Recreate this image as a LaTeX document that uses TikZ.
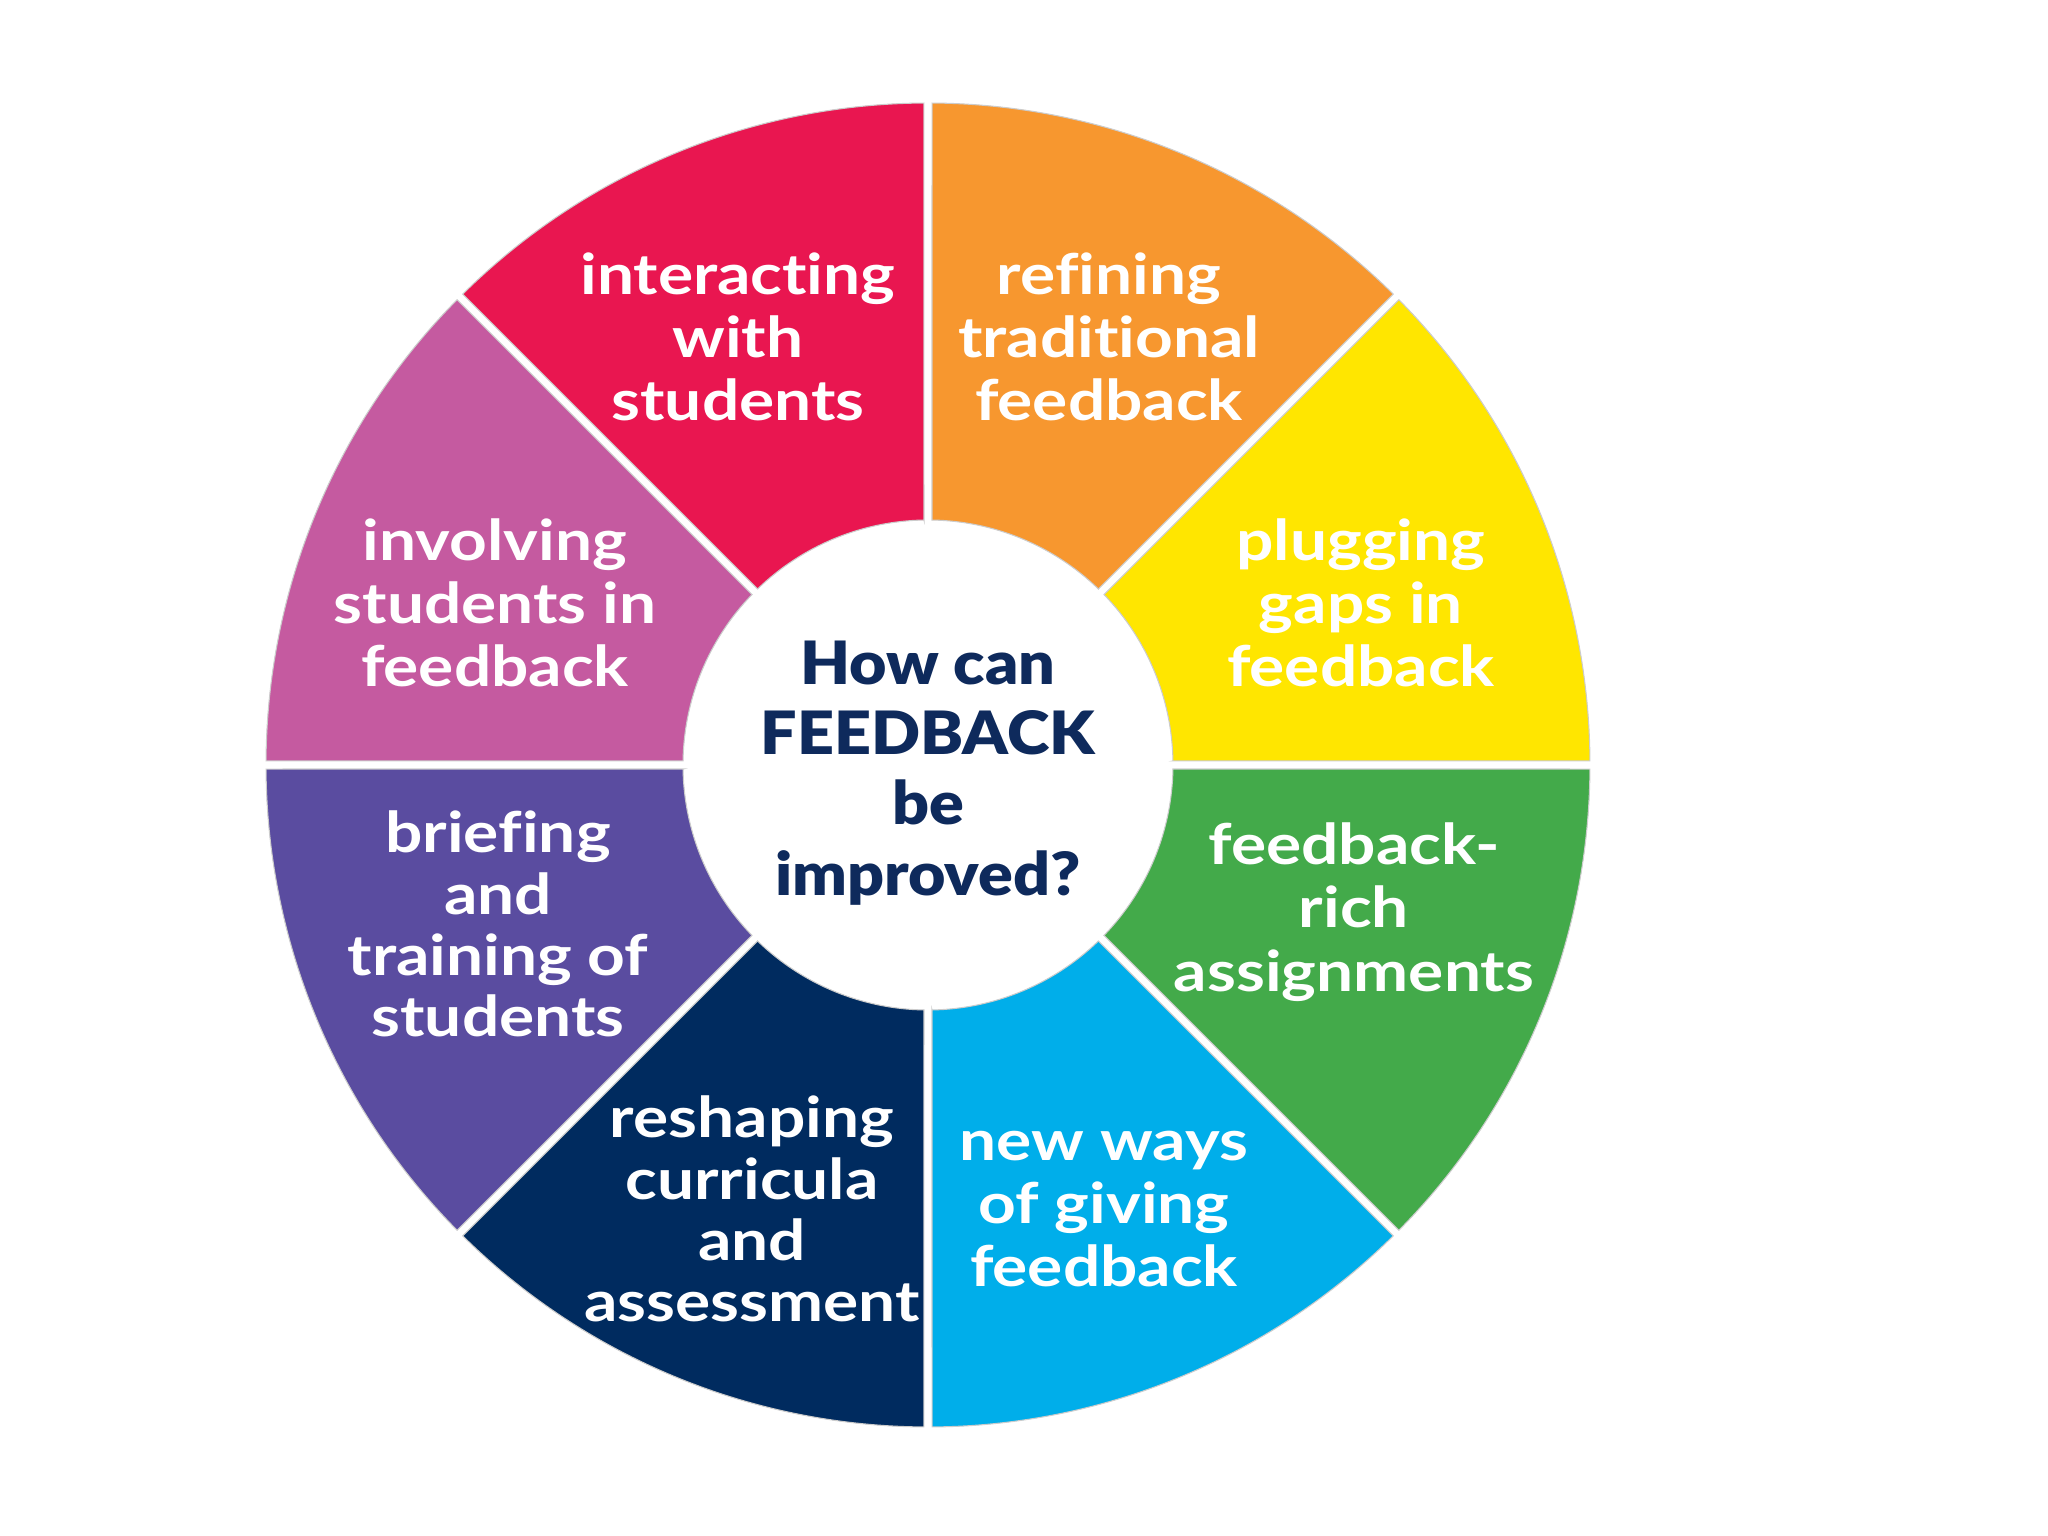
\documentclass[tikz,border=0pt]{standalone}
\usepackage{fontspec}
\setmainfont{Lato}[FakeStretch=1.17, Ligatures=NoCommon]
\newfontfamily\askfont{Lato Black}[FakeStretch=1.08]
\usepackage{xcolor}
\usepackage{tikz}

\definecolor{segred}{HTML}{E91650}
\definecolor{segorange}{HTML}{F7972F}
\definecolor{segyellow}{HTML}{FFE600}
\definecolor{seggreen}{HTML}{43AA4A}
\definecolor{segblue}{HTML}{00AEEA}
\definecolor{segnavy}{HTML}{002B5F}
\definecolor{segpurple}{HTML}{5A4CA0}
\definecolor{segpink}{HTML}{C55AA0}
\definecolor{asktext}{HTML}{0E2A5C}

\begin{document}
\begin{tikzpicture}[
    seglabel/.style={text=white, align=center, font=\bfseries\fontsize{16}{18}\selectfont},
    seglong/.style={seglabel, font=\bfseries\fontsize{16}{17.4}\selectfont},
    asklabel/.style={text=asktext, align=center, font=\askfont\fontsize{17}{20}\selectfont}]
      \useasboundingbox (-9.28,-7.71) rectangle (11.20,7.65);
      % eight ring segments with white gaps
      \foreach \a/\col in {45/segorange, 0/segyellow, -45/seggreen, -90/segblue,
                           -135/segnavy, 180/segpurple, 135/segpink, 90/segred}
        \filldraw [fill=\col, draw=black!20, line width=0.3pt]
          (\a+0.94:2.45) -- (\a+0.35:6.62)
          arc [start angle=\a+0.35, end angle=\a+44.65, radius=6.62]
          -- (\a+44.06:2.45)
          arc [start angle=\a+44.06, end angle=\a+0.94, radius=2.45] -- cycle;
      \node (interact) at (-1.90,4.28) [seglabel] {interacting\\with\\students};
      \node (refine) at (1.81,4.28) [seglabel] {refining\\traditional\\feedback};
      \node (plug) at (4.33,1.62) [seglabel] {plugging\\gaps in\\feedback};
      \node (rich) at (4.26,-1.47) [seglabel] {feedback-\\rich\\assignments};
      \node (newways) at (1.76,-4.44) [seglabel] {new ways\\of giving\\feedback};
      \node (reshape) at (-1.76,-4.44) [seglong] {reshaping\\curricula\\and\\assessment};
      \node (brief) at (-4.30,-1.59) [seglong] {briefing\\and\\training of\\students};
      \node (involve) at (-4.33,1.62) [seglabel] {involving\\students in\\feedback};
      \node (question) at (0,-0.08) [asklabel] {How can\\FEEDBACK\\be\\improved?};
    \end{tikzpicture}
\end{document}
